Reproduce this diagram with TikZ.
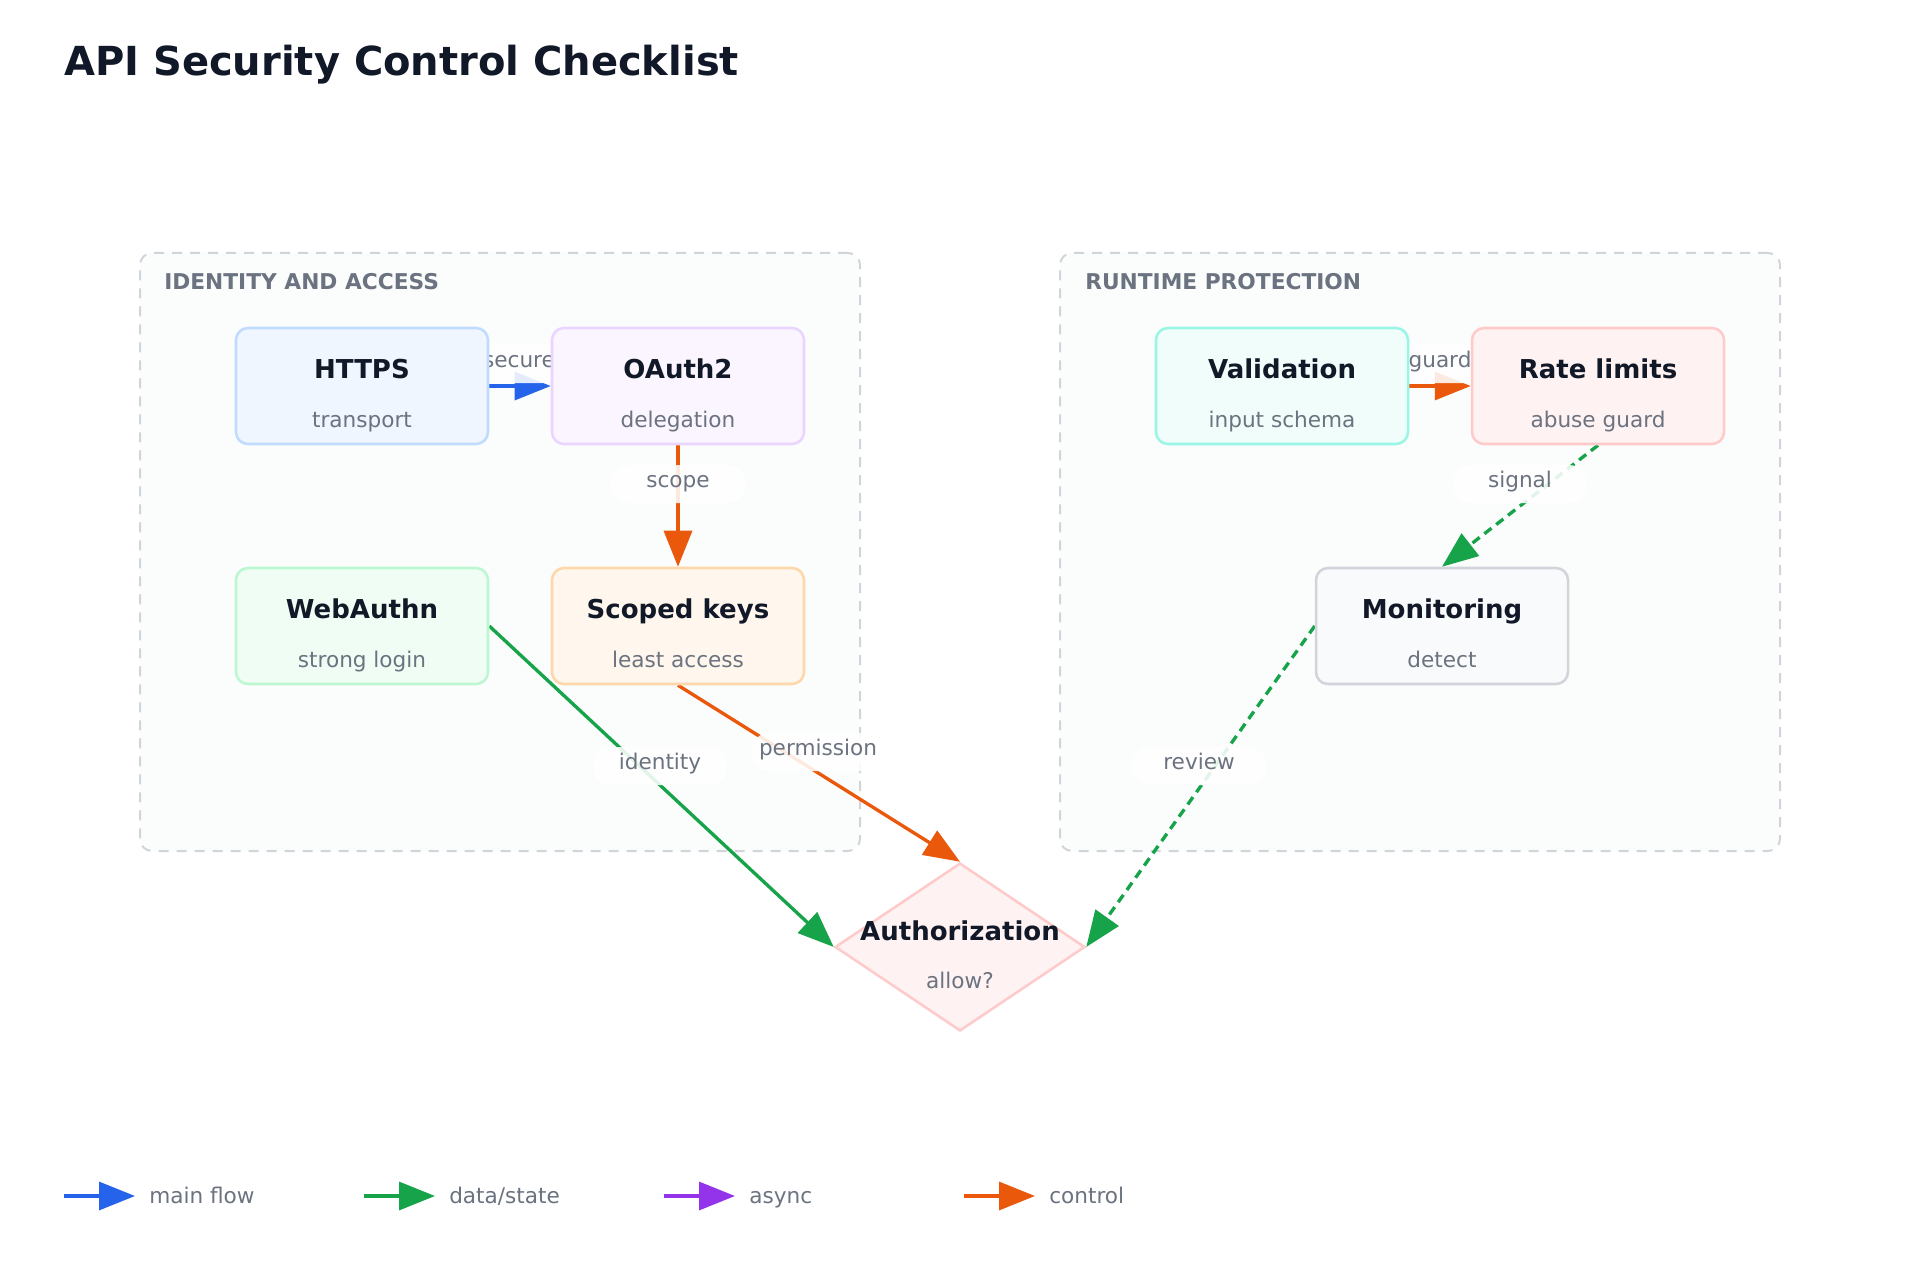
\documentclass[tikz,border=0pt]{standalone}
\usepackage{fontspec}
\setmainfont{DejaVu Sans}
\usetikzlibrary{arrows.meta,shapes.geometric,calc}
\definecolor{cblue}{HTML}{2563EB}
\definecolor{cgreen}{HTML}{16A34A}
\definecolor{cpurple}{HTML}{9333EA}
\definecolor{corange}{HTML}{EA580C}
\definecolor{ink}{HTML}{111827}
\definecolor{muted}{HTML}{6B7280}
\definecolor{grpline}{HTML}{D1D5DB}
\definecolor{grpfill}{HTML}{FBFCFC}
\definecolor{fblue}{HTML}{EFF6FF}\definecolor{sblue}{HTML}{BFDBFE}
\definecolor{fpurple}{HTML}{FAF5FF}\definecolor{spurple}{HTML}{E9D5FF}
\definecolor{fgreen}{HTML}{F0FDF4}\definecolor{sgreen}{HTML}{BBF7D0}
\definecolor{forange}{HTML}{FFF7ED}\definecolor{sorange}{HTML}{FED7AA}
\definecolor{fteal}{HTML}{F0FDFA}\definecolor{steal}{HTML}{99F6E4}
\definecolor{fred}{HTML}{FEF2F2}\definecolor{sred}{HTML}{FECACA}
\definecolor{fgray}{HTML}{F9FAFB}\definecolor{sgray}{HTML}{D1D5DB}
\pgfdeclarelayer{bg}
\pgfdeclarelayer{edges}
\pgfsetlayers{bg,edges,main}
\begin{document}
\begin{tikzpicture}[x=0.75pt,y=-0.75pt,
  fixedtext/.style={text height=0.74em, text depth=0.2em},
  grp/.style={draw=grpline, fill=grpfill, line width=1.5pt, dash pattern=on 7.5pt off 6pt, rounded corners=9pt},
  grplabel/.style={fixedtext, anchor=west, inner sep=0pt, text=muted, font=\bfseries\fontsize{16.3pt}{19pt}\selectfont},
  box/.style={draw, line width=1.9pt, rounded corners=9pt, minimum width=189pt, minimum height=87pt, inner sep=0pt},
  ttl/.style={fixedtext, inner sep=0pt, text=ink, font=\bfseries\fontsize{19.5pt}{23pt}\selectfont},
  sub/.style={fixedtext, inner sep=0pt, text=muted, font=\fontsize{16.2pt}{19pt}\selectfont},
  edge/.style={line width=2.5pt, -{Triangle[length=27pt,width=21pt]}},
  dashededge/.style={edge, dash pattern=on 6.75pt off 4.5pt},
  elabel/.style={fixedtext, fill=white, fill opacity=0.88, text opacity=1, rounded corners=14pt, minimum width=101pt, minimum height=28.5pt, inner sep=0pt, text=muted, font=\fontsize{16.2pt}{19pt}\selectfont},
  legtext/.style={fixedtext, anchor=west, inner sep=0pt, text=muted, font=\fontsize{16.2pt}{19pt}\selectfont}
]
\useasboundingbox (0,0) rectangle (1920,1280);
\begin{pgfonlayer}{bg}
\fill[white] (0,0) rectangle (1920,1280);
\node[grp, minimum width=540pt, minimum height=448.5pt] (g1) at (500,552) {};
\node[grp, minimum width=540pt, minimum height=448.5pt] (g2) at (1420,552) {};
\end{pgfonlayer}

\node[fixedtext, anchor=west, inner sep=0pt, text=ink, font=\bfseries\fontsize{30pt}{36pt}\selectfont] (title) at (64,72) {API Security Control Checklist};

\node[grplabel] (g1l) at (164,286) {IDENTITY AND ACCESS};
\node[grplabel] (g2l) at (1085,286) {RUNTIME PROTECTION};

% nodes
\node[box, fill=fblue, draw=sblue] (https) at (362,386) {};
\node[box, fill=fpurple, draw=spurple] (oauth) at (678,386) {};
\node[box, fill=fgreen, draw=sgreen] (webauthn) at (362,626) {};
\node[box, fill=forange, draw=sorange] (keys) at (678,626) {};
\node[box, fill=fteal, draw=steal] (valid) at (1282,386) {};
\node[box, fill=fred, draw=sred] (rate) at (1598,386) {};
\node[box, fill=fgray, draw=sgray] (mon) at (1442,626) {};
\node[draw=sred, fill=fred, shape=diamond, line width=1.9pt, minimum width=187.5pt, minimum height=126pt, inner sep=0pt] (authz) at (960,947) {};

\node[ttl] (httpsT) at ($(https.center)+(0,-11)$) {HTTPS};
\node[sub] (httpsS) at ($(https.center)+(0,38)$) {transport};
\node[ttl] (oauthT) at ($(oauth.center)+(0,-11)$) {OAuth2};
\node[sub] (oauthS) at ($(oauth.center)+(0,38)$) {delegation};
\node[ttl] (webauthnT) at ($(webauthn.center)+(0,-11)$) {WebAuthn};
\node[sub] (webauthnS) at ($(webauthn.center)+(0,38)$) {strong login};
\node[ttl] (keysT) at ($(keys.center)+(0,-11)$) {Scoped keys};
\node[sub] (keysS) at ($(keys.center)+(0,38)$) {least access};
\node[ttl] (validT) at ($(valid.center)+(0,-11)$) {Validation};
\node[sub] (validS) at ($(valid.center)+(0,38)$) {input schema};
\node[ttl] (rateT) at ($(rate.center)+(0,-11)$) {Rate limits};
\node[sub] (rateS) at ($(rate.center)+(0,38)$) {abuse guard};
\node[ttl] (monT) at ($(mon.center)+(0,-11)$) {Monitoring};
\node[sub] (monS) at ($(mon.center)+(0,38)$) {detect};
\node[ttl] (authzT) at ($(authz.center)+(0,-10)$) {Authorization};
\node[sub] (authzS) at ($(authz.center)+(0,38)$) {allow?};

% edges
\begin{pgfonlayer}{edges}
\draw[edge, cblue] (https.east) -- (oauth.west);
\draw[edge, corange] (oauth.south) -- (keys.north);
\draw[edge, cgreen] (webauthn.east) -- (authz.west);
\draw[edge, corange] (keys.south) -- (authz.north);
\draw[edge, corange] (valid.east) -- (rate.west);
\draw[dashededge, cgreen] (rate.south) -- (mon.north);
\draw[dashededge, cgreen] (mon.west) -- (authz.east);
\node[elabel] (lsecure) at (519,364) {secure};
\node[elabel] (lscope) at (678,484) {scope};
\node[elabel] (lidentity) at (660,766) {identity};
\node[elabel] (lperm) at (818,752) {permission};
\node[elabel] (lguard) at (1440,364) {guard};
\node[elabel] (lsignal) at (1520,484) {signal};
\node[elabel] (lreview) at (1199,766) {review};
\end{pgfonlayer}

% legend
\coordinate (la1) at (64,1196);  \coordinate (lb1) at (135,1196);
\coordinate (la2) at (364,1196); \coordinate (lb2) at (435,1196);
\coordinate (la3) at (664,1196); \coordinate (lb3) at (735,1196);
\coordinate (la4) at (964,1196); \coordinate (lb4) at (1035,1196);
\draw[edge, cblue] (la1) -- (lb1);
\draw[edge, cgreen] (la2) -- (lb2);
\draw[edge, cpurple] (la3) -- (lb3);
\draw[edge, corange] (la4) -- (lb4);
\node[legtext] (lt1) at (149,1200) {main flow};
\node[legtext] (lt2) at (449,1200) {data/state};
\node[legtext] (lt3) at (749,1200) {async};
\node[legtext] (lt4) at (1049,1200) {control};
\end{tikzpicture}
\end{document}
